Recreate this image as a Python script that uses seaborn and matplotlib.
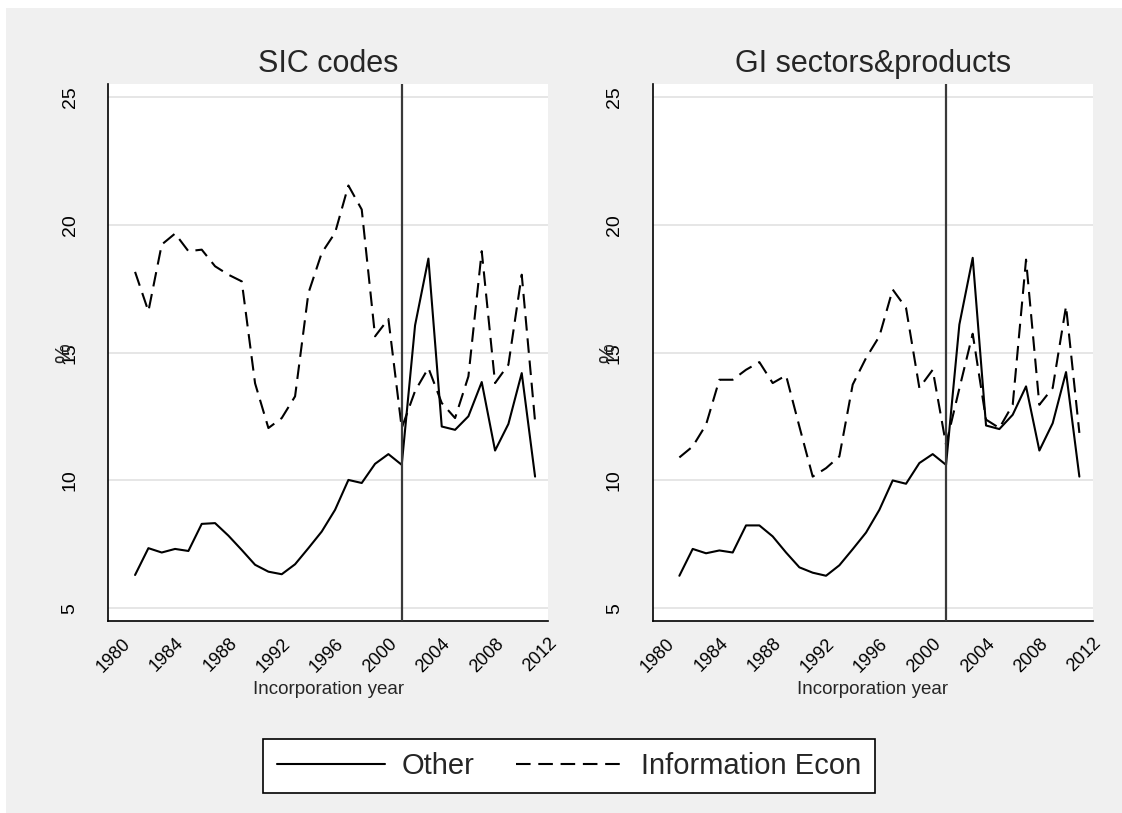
import matplotlib
matplotlib.use("Agg")
import matplotlib.pyplot as plt
from matplotlib.patches import Rectangle
from matplotlib.lines import Line2D
import seaborn as sns
import pandas as pd

# incorporation years and shares (%)
years = list(range(1981, 2012))

sic_other = [6.30, 7.35, 7.18, 7.32, 7.24, 8.30, 8.33, 7.84, 7.28, 6.70, 6.43,
             6.33, 6.72, 7.35, 8.00, 8.85, 10.02, 9.90, 10.65, 11.03, 10.61,
             16.07, 18.68, 12.11, 11.98, 12.51, 13.85, 11.17, 12.21, 14.20, 10.15]
sic_info = [18.16, 16.62, 19.23, 19.66, 18.97, 19.03, 18.38, 18.05, 17.79, 13.80, 12.05,
            12.44, 13.29, 17.33, 18.90, 19.69, 21.54, 20.60, 15.64, 16.32, 12.05,
            13.50, 14.40, 13.03, 12.44, 14.07, 18.97, 13.81, 14.53, 18.05, 12.31]

gi_other = [6.27, 7.32, 7.15, 7.26, 7.18, 8.24, 8.24, 7.81, 7.18, 6.60, 6.39,
            6.27, 6.68, 7.31, 7.96, 8.85, 10.00, 9.87, 10.68, 11.03, 10.61,
            16.10, 18.71, 12.15, 12.01, 12.57, 13.68, 11.17, 12.24, 14.24, 10.15]
gi_info = [10.90, 11.33, 12.18, 13.94, 13.94, 14.33, 14.63, 13.81, 14.11, 12.11, 10.15,
           10.48, 10.94, 13.75, 14.79, 15.64, 17.47, 16.75, 13.62, 14.33, 11.40,
           13.60, 15.74, 12.38, 12.05, 12.96, 18.64, 12.96, 13.62, 16.82, 11.86]

panel_titles = ["SIC codes", "GI sectors&products"]
series_names = ["Other", "Information Econ"]
y_ticks = [5, 10, 15, 20, 25]
x_ticks = list(range(1980, 2013, 4))
cutoff_year = 2001

sns.set_style("white")
plt.rcParams["font.family"] = ["Liberation Sans", "DejaVu Sans"]

BG = "#f0f0f0"
GRID = "#e6e6e6"
LW = 1.5
DASH = (7, 3.7)

fig = plt.figure(figsize=(11.22, 8.13), dpi=100)
fig.patch.set_facecolor("white")
fig.patches.append(Rectangle((6 / 1122, 0), 1, (813 - 8) / 813, transform=fig.transFigure,
                             facecolor=BG, edgecolor="none", zorder=-10))

W, H = 1122, 813
ax_w = 440 / W
ax_h = (621 - 84.3) / H
ax_b = (H - 621) / H
lefts = [108.4 / W, 652.7 / W]

panels = [(sic_other, sic_info), (gi_other, gi_info)]

for i, (other, info) in enumerate(panels):
    ax = fig.add_axes([lefts[i], ax_b, ax_w, ax_h])
    ax.set_facecolor("white")
    df = pd.DataFrame({"year": years * 2,
                       "pct": other + info,
                       "group": [series_names[0]] * len(years) + [series_names[1]] * len(years)})
    sns.lineplot(data=df, x="year", y="pct", style="group",
                 dashes={series_names[0]: "", series_names[1]: DASH},
                 color="black", linewidth=LW, legend=False, ax=ax)
    ax.axvline(cutoff_year, color="#3a3a3a", linewidth=1.6, zorder=3)

    for t in y_ticks:
        ax.axhline(t, color=GRID, linewidth=1.4, zorder=0)

    ax.set_xlim(1979, 2012)
    ax.set_ylim(4.5, 25.5)
    ax.set_xticks(x_ticks)
    ax.set_yticks(y_ticks)
    ax.set_yticklabels([str(t) for t in y_ticks], rotation=90, va="center", fontsize=14)
    ax.set_xticklabels([str(t) for t in x_ticks], rotation=45, ha="right",
                       rotation_mode="anchor", fontsize=13)
    ax.tick_params(axis="y", direction="out", length=8, width=1, pad=13.5, colors="black")
    ax.tick_params(axis="x", direction="out", length=8, width=1, pad=2, colors="black")

    for s in ["top", "right"]:
        ax.spines[s].set_visible(False)
    for s in ["left", "bottom"]:
        ax.spines[s].set_color("black")
        ax.spines[s].set_linewidth(1.2)

    ax.set_title(panel_titles[i], fontsize=22, pad=9)
    ax.set_xlabel("Incorporation year", fontsize=13.5, labelpad=4)
    # Stata draws the "%" title right on top of the 15 tick label
    ax.set_ylabel("%", fontsize=16)
    ax.yaxis.label.set_va("center")
    ax.yaxis.set_label_coords(-0.100, 0.5)

handles = [Line2D([], [], color="black", linewidth=LW),
           Line2D([], [], color="black", linewidth=LW, dashes=DASH)]
leg = fig.legend(handles, series_names, loc="center", ncol=2,
                 bbox_to_anchor=((266 + 872) / 2 / W, 1 - 766 / H),
                 fontsize=21, frameon=True, fancybox=False, edgecolor="black",
                 facecolor="white", framealpha=1, handlelength=3.7,
                 handletextpad=0.6, columnspacing=1.4, borderpad=0.45,
                 borderaxespad=0)
leg.get_frame().set_linewidth(1.2)

fig.savefig("out.png", dpi=100, facecolor=fig.get_facecolor())
